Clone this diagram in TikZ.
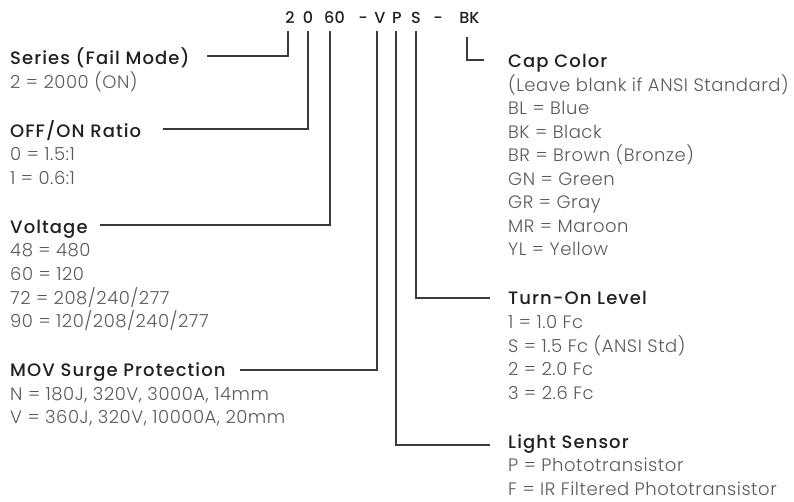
\documentclass[tikz,border=0pt]{standalone}
\usepackage{fontspec}
\setmainfont{Poppins}[UprightFont=* Light, BoldFont=* Medium]
\definecolor{ttlc}{HTML}{231F20}
\definecolor{valc}{HTML}{5A5A5C}
\definecolor{lnc}{HTML}{3A3A3A}
\tikzset{
  ttl/.style={anchor=base west, inner sep=0pt, font=\fontsize{18}{20}\selectfont\bfseries\addfontfeatures{LetterSpace=6}, text=ttlc},
  val/.style={anchor=base west, inner sep=0pt, font=\fontsize{18}{20}\selectfont\addfontfeatures{LetterSpace=3}, text=valc},
  hdr/.style={anchor=base, inner sep=0pt, font=\fontsize{16}{18}\selectfont\bfseries, text=ttlc},
  conn/.style={draw=lnc, line width=1.2pt}
}
\begin{document}
\begin{tikzpicture}[x=1pt,y=-1pt]
\useasboundingbox (0,0) rectangle (794,502);
% header
\node[hdr] (h2) at (290,24) {2};
\node[hdr] (h0) at (308,24) {0};
\node[hdr] (h60) at (334.5,24) {60};
\node[hdr] (hd1) at (363,24) {-};
\node[hdr] (hV) at (380,24) {V};
\node[hdr] (hP) at (397,24) {P};
\node[hdr] (hS) at (416,24) {S};
\node[hdr] (hd2) at (438,24) {-};
\node[hdr] (hBK) at (469.5,24) {BK};
% left column
\node[ttl] (series) at (10,65) {Series (Fail Mode)};
\node[val] (s1) at (10,88.5) {2 = 2000 (ON)};
\node[ttl] (ratio) at (10,137.5) {OFF/ON Ratio};
\node[val] (r1) at (10,161) {0 = 1.5:1};
\node[val] (r2) at (10,184.5) {1 = 0.6:1};
\node[ttl] (volt) at (10,233.5) {Voltage};
\node[val] (v1) at (10,257) {48 = 480};
\node[val] (v2) at (10,280.5) {60 = 120};
\node[val] (v3) at (10,304) {72 = 208/240/277};
\node[val] (v4) at (10,327.5) {90 = 120/208/240/277};
\node[ttl] (mov) at (10,376.5) {MOV Surge Protection};
\node[val] (m1) at (10,400) {N = 180J, 320V, 3000A, 14mm};
\node[val] (m2) at (10,423.5) {V = 360J, 320V, 10000A, 20mm};
% right column
\node[ttl] (cap) at (508,68) {Cap Color};
\node[val] (c0) at (508,91.5) {(Leave blank if ANSI Standard)};
\node[val] (c1) at (508,115) {BL = Blue};
\node[val] (c2) at (508,138.5) {BK = Black};
\node[val] (c3) at (508,162) {BR = Brown (Bronze)};
\node[val] (c4) at (508,185.5) {GN = Green};
\node[val] (c5) at (508,209) {GR = Gray};
\node[val] (c6) at (508,232.5) {MR = Maroon};
\node[val] (c7) at (508,256) {YL = Yellow};
\node[ttl] (turn) at (508,305) {Turn-On Level};
\node[val] (t1) at (508,328.5) {1 = 1.0 Fc};
\node[val] (t2) at (508,352) {S = 1.5 Fc (ANSI Std)};
\node[val] (t3) at (508,375.5) {2 = 2.0 Fc};
\node[val] (t4) at (508,399) {3 = 2.6 Fc};
\node[ttl] (light) at (508,448) {Light Sensor};
\node[val] (l1) at (508,471.5) {P = Phototransistor};
\node[val] (l2) at (508,495) {F = IR Filtered Phototransistor};
% connector ends
\coordinate (a2) at (288,31);   \coordinate (b2) at (207,56);
\coordinate (a0) at (308,31);   \coordinate (b0) at (163,129);
\coordinate (a60) at (330,31);  \coordinate (b60) at (100,225);
\coordinate (aV) at (377,31);   \coordinate (bV) at (240,370);
\coordinate (aP) at (396,31);   \coordinate (bP) at (490,445);
\coordinate (aS) at (416,31);   \coordinate (bS) at (490,298);
\coordinate (aBK) at (467,37);  \coordinate (bBK) at (484,60);
\draw[conn] (a2) |- (b2);
\draw[conn] (a0) |- (b0);
\draw[conn] (a60) |- (b60);
\draw[conn] (aV) |- (bV);
\draw[conn] (aP) |- (bP);
\draw[conn] (aS) |- (bS);
\draw[conn] (aBK) |- (bBK);
\end{tikzpicture}
\end{document}
